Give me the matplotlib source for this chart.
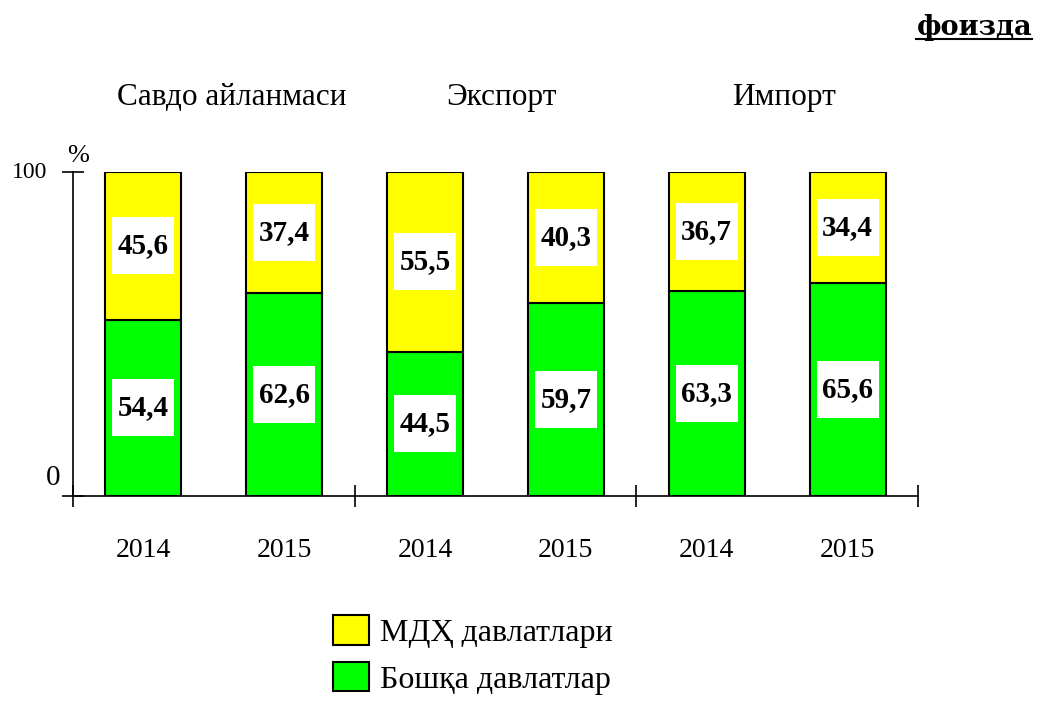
import numpy as np
import matplotlib.pyplot as plt
from matplotlib.patches import Rectangle
from matplotlib.lines import Line2D

# data
groups = ["Савдо айланмаси", "Экспорт", "Импорт"]
years = ["2014", "2015", "2014", "2015", "2014", "2015"]
cis = [45.6, 37.4, 55.5, 40.3, 36.7, 34.4]      # МДҲ давлатлари
other = [54.4, 62.6, 44.5, 59.7, 63.3, 65.6]    # Бошқа давлатлар
series_names = ["МДҲ давлатлари", "Бошқа давлатлар"]

serif = ["Liberation Serif", "DejaVu Serif"]
plt.rcParams["font.family"] = serif

W, H = 1037, 702
fig = plt.figure(figsize=(W / 100, H / 100), dpi=100)
ax = fig.add_axes([73 / W, 1 - 496 / H, (918 - 73) / W, (496 - 172) / H])

x = np.arange(len(years))
bw = 0.54
b1 = ax.bar(x, other, bw, color="#00ff00", edgecolor="black", linewidth=1.5, zorder=2)
b2 = ax.bar(x, cis, bw, bottom=other, color="#ffff00", edgecolor="black", linewidth=1.5, zorder=2)

ax.set_xlim(-0.5, len(years) - 0.5)
ax.set_ylim(0, 100)
for s in ["top", "right"]:
    ax.spines[s].set_visible(False)
for s in ["left", "bottom"]:
    ax.spines[s].set_linewidth(1.2)

# group dividers as major ticks, years as minor tick labels
ax.set_xticks(np.arange(-0.5, len(years), 2))
ax.set_xticklabels([])
ax.tick_params(axis="x", which="major", direction="inout", length=16, width=1.2)
ax.set_xticks(x, labels=years, minor=True)
ax.tick_params(axis="x", which="minor", length=0, pad=30, labelsize=20)

ax.set_yticks([0, 100])
ax.set_yticklabels([])
ax.tick_params(axis="y", direction="inout", length=16, width=1.2)

px = 1 / 140.8  # one pixel in x data units
ax.text(-0.5 - 26 * px, 100, "100", ha="right", va="center", fontsize=17)
ax.text(-0.5 - 13 * px, 1.5, "0", ha="right", va="bottom", fontsize=21)
ax.text(-0.5 + 5 * px, 101.5, "%", ha="center", va="bottom", fontsize=19)

# group titles
shift = [0.13, 0.04, 0.05]
for i, g in enumerate(groups):
    ax.text(2 * i + 0.5 + shift[i], 100 + 67 / 3.24, g,
            ha="center", va="baseline", fontsize=22.5)

# value labels in white boxes
def label(xs, bottoms, vals):
    for xi, b, v in zip(xs, bottoms, vals):
        yc = b + v / 2
        ax.add_patch(Rectangle((xi - 0.22, yc - 8.8), 0.44, 17.6, facecolor="white",
                               edgecolor="none", zorder=3))
        ax.text(xi, yc, f"{v:.1f}".replace(".", ","), ha="center", va="center",
                fontsize=21, fontweight="bold", zorder=4)

label(x, [0] * len(x), other)
label(x, other, cis)

# legend
leg = fig.legend([b2, b1], series_names, loc="center", bbox_to_anchor=(473 / W, 1 - 655 / H),
                 frameon=False, fontsize=23, handlelength=1.125, handleheight=1.03,
                 handletextpad=0.34, labelspacing=0.45, borderpad=0)

# units note, underlined
t = fig.text(1032 / W, 1 - 35 / H, "фоизда", ha="right", va="baseline", fontsize=19.5,
             fontweight="bold", family=["DejaVu Serif"])
fig.canvas.draw()
bb = t.get_window_extent()
fig.add_artist(Line2D([bb.x0 / W, bb.x1 / W], [(H - 38.5) / H] * 2,
                      color="black", linewidth=1.5, transform=fig.transFigure))

fig.savefig("out.png", dpi=100)
